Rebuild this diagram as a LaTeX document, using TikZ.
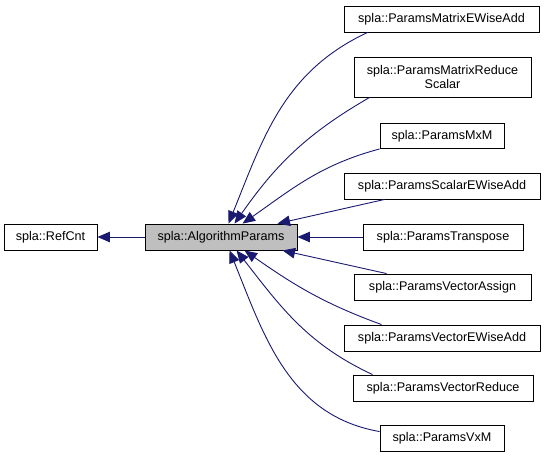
\documentclass[tikz,border=0pt]{standalone}
\usepackage{fontspec}
\setmainfont{Liberation Sans}
\usetikzlibrary{arrows.meta,calc}
\definecolor{edgeblue}{RGB}{25,25,112}
\definecolor{boxgray}{RGB}{191,191,191}
\tikzset{
  cls/.style={draw=black, line width=0.9pt, fill=white, inner sep=0pt, align=center,
    font=\fontsize{12.6}{14.5}\selectfont, minimum height=26pt},
  inh/.style={draw=edgeblue, line width=0.9pt, -{Triangle[length=12.5pt,width=10.5pt]}, fill=none},
}
\begin{document}
\begin{tikzpicture}[x=1pt,y=1pt]
\useasboundingbox (0,0) rectangle (545,-459);
\node[cls, minimum width=93pt] (rc) at (50.5,-237) {spla::RefCnt};
\node[cls, fill=boxgray, minimum width=152pt] (ap) at (221,-237) {spla::AlgorithmParams};
\node[cls, minimum width=195pt] (c1) at (441.5,-19) {spla::ParamsMatrixEWiseAdd};
\node[cls, minimum width=177pt, minimum height=40pt] (c2) at (442.5,-77) {spla::ParamsMatrixReduce\\Scalar};
\node[cls, minimum width=124pt, minimum height=25pt] (c3) at (442,-136) {spla::ParamsMxM};
\node[cls, minimum width=196pt] (c4) at (442,-186) {spla::ParamsScalarEWiseAdd};
\node[cls, minimum width=160pt] (c5) at (443,-237) {spla::ParamsTranspose};
\node[cls, minimum width=177pt] (c6) at (442.5,-287) {spla::ParamsVectorAssign};
\node[cls, minimum width=196pt] (c7) at (442,-338) {spla::ParamsVectorEWiseAdd};
\node[cls, minimum width=180pt] (c8) at (443,-388) {spla::ParamsVectorReduce};
\node[cls, minimum width=124pt] (c9) at (442,-438) {spla::ParamsVxM};

\draw[inh] (ap) -- (rc);
\draw[inh] ($(c1.south west)+(24,0)$) to[out=205,in=68] ($(ap.north west)+(84,0)$);
\draw[inh] ($(c2.south west)+(16,0)$) to[out=210,in=55] ($(ap.north west)+(90,0)$);
\draw[inh] (c3.south west) to[out=195,in=35] ($(ap.north west)+(98,0)$);
\draw[inh] ($(c4.south west)+(41,0)$) -- ($(ap.north west)+(133,0)$);
\draw[inh] (c5.west) -- (ap.east);
\draw[inh] ($(c6.north west)+(33,0)$) -- ($(ap.south west)+(138,0)$);
\draw[inh] ($(c7.north west)+(38,0)$) to[out=160,in=-35] ($(ap.south west)+(100,0)$);
\draw[inh] ($(c8.north west)+(20,0)$) to[out=155,in=-52] ($(ap.south west)+(92,0)$);
\draw[inh] ($(c9.north west)+(0,-7)$) to[out=170,in=-68] ($(ap.south west)+(85,0)$);
\end{tikzpicture}
\end{document}
